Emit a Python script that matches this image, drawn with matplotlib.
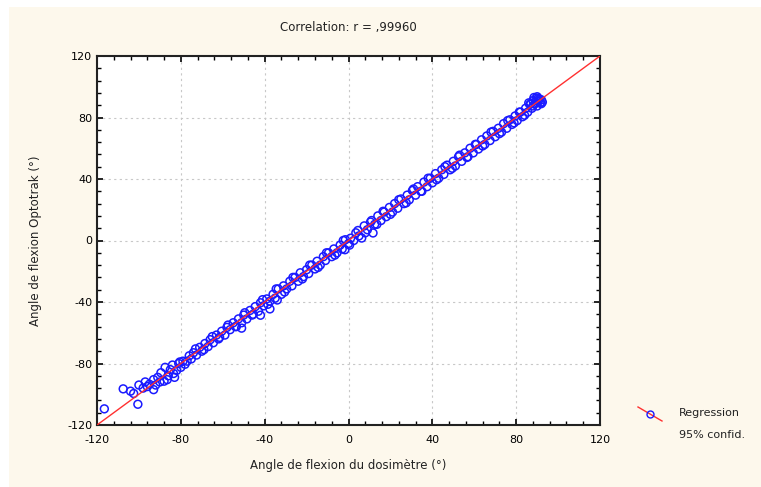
import matplotlib
matplotlib.use("Agg")
import matplotlib.pyplot as plt
from matplotlib.patches import Rectangle
from matplotlib.lines import Line2D
from matplotlib.ticker import MultipleLocator

plt.rcParams["axes.unicode_minus"] = False

# Donnees (dosimetre, optotrak)
dosi = [-116.5, -107.5, -104, -102.5, -100.5, -100, -98, -97, -95, -93, -93, -91, -89.5, -88, -87.5,
        -86.5, -85, -84, -83, -82, -81, -80, -79, -78,
        -76, -75, -74, -72.5, -71, -70, -68.5, -67, -66, -64.5, -63, -62, -60.5, -59, -58, -56.5,
        -55, -54, -52.5, -51, -51, -50, -48.5, -47, -46, -44.5, -43, -42, -42, -40.5, -39,
        -37.5, -37.5, -36, -35, -34, -33.5, -32, -31, -29.5, -28, -27, -25.5, -24, -23, -21.5,
        -20, -19, -17.5, -16, -15, -13.5, -12, -11, -9.5, -8, -7, -5.5, -4, -3, -1.5, -1.7, 0, 1,
        2.5, 3.5, 5, 6.3, 7.5, 9, 10.5, 11.7, 12.5, 14, 15.5, 17, 18, 19.5, 21, 22, 23.5, 25,
        26.5, 28, 29, 30.5, 32, 33, 34.5, 36, 37.5, 39, 40, 41.5, 43, 44.5, 45.5, 47, 48.5, 50,
        51, 52.5, 54, 55.5, 56.5, 58, 59.5, 61, 62, 63.5, 65, 66, 67.5, 69, 70, 71.5, 73, 74,
        75.5, 77, 78, 79.5, 80.5, 82, 83, 84.5, 85.5, 86.5, 87.5, 88, 89, 89.5, 90, 90.5, 91,
        91.5, 92, 88.5, 92.5, 90, 87]
opto = [-109.5, -96.5, -98, -99.5, -106.5, -94, -96, -92, -93.5, -97, -90.5, -89, -86, -91.5, -82.5,
        -90.5, -84, -81, -89, -84.5, -80, -82.5, -78.5, -80.5,
        -75, -77, -73, -74.5, -69.5, -72, -67, -69, -64.5, -66.5, -61.5, -64, -59, -61.5, -56.5, -58,
        -53.5, -56, -51, -53.5, -57, -48.5, -51, -45.5, -48.5, -43, -46, -40.5, -48.6, -42.5, -38,
        -44.5, -39.5, -35, -37.5, -38.7, -31.5, -35, -29.5, -31.5, -26.5, -29.5, -24, -26.5, -21, -23.5,
        -19, -21.5, -16, -18.5, -13.5, -16, -10.5, -13, -8, -10.5, -5.5, -8, -3, -5.5, 0.5, -6, -2, 1.5,
        0, 5, 3, 1.6, 9.5, 7, 12, 4.9, 10.5, 16, 13, 18.5, 15.5, 21.5, 18.5, 24, 21, 27,
        24, 29.5, 26.5, 32.5, 29.5, 35, 32, 38, 35, 40.5, 37.5, 43.5, 40.5, 46, 43, 49, 46, 51.5,
        48.5, 54.5, 51.5, 57, 54, 60, 57, 62.5, 59.5, 65.5, 62.5, 68, 65, 71, 67.5, 73, 70.5, 76,
        73, 78.5, 75.5, 81, 78, 83.5, 80.5, 86, 83.5, 88.5, 86, 91, 89, 92.5, 87.5, 90.5, 92,
        89.5, 91.5, 93, 90, 93.5, 89]

# second paquet de points (le nuage est dense autour de la droite)
dosi2 = [-96, -92, -90, -86, -83.5, -80.5, -77, -73, -69, -65, -61.5, -57.5, -53.5, -49.5, -45.5,
         -41, -38.5, -34.5, -30.5, -26.5, -22, -18.5, -14.5, -10.5, -6.5, -2.5, 0.5, 4.5, 8, 11,
         13.5, 16.5, 20, 24, 27.5, 31, 35, 38, 42, 46, 49.5, 53, 57, 60.5, 64, 68, 72, 76,
         79, 81.5, 84, 86, 88, 90.5, 92]
opto2 = [-95, -94, -92, -88, -86.5, -79, -78.5, -70.5, -71, -62.5, -63, -55, -56, -47, -48,
         -38.5, -41.5, -31.5, -33.5, -24, -25, -16, -17.5, -8, -9.5, 0, -3, 6.5, 5, 13,
         10.5, 19, 17, 26.5, 24.5, 33.5, 32, 40.5, 39.5, 48, 47, 55.5, 54.5, 62.5, 61.5, 70.5, 69.5, 78,
         76.5, 83.5, 81.5, 89.5, 87.5, 92.5, 89]

# droite de regression
reg_x = [-120, 120]
reg_y = [-120, 120]

fig = plt.figure(figsize=(7.61, 4.87), dpi=100, facecolor="white")
fig.patches.append(Rectangle((9 / 761, 0), 1, 1 - 7 / 487, transform=fig.transFigure,
                             facecolor="#fdf8ec", edgecolor="none", zorder=-10))

ax = fig.add_axes([97 / 761, 1 - 425 / 487, 503 / 761, 369 / 487])
ax.set_facecolor("white")
ax.scatter(dosi, opto, s=32, facecolors="none", edgecolors="#1a1aff", linewidths=1.1, zorder=3)
ax.scatter(dosi2, opto2, s=32, facecolors="none", edgecolors="#1a1aff", linewidths=1.1, zorder=3)
ax.plot(reg_x, reg_y, color="#ff3030", linewidth=1.0, zorder=4)

ax.set_xlim(-120, 120)
ax.set_ylim(-120, 120)
ax.xaxis.set_major_locator(MultipleLocator(40))
ax.yaxis.set_major_locator(MultipleLocator(40))
ax.xaxis.set_minor_locator(MultipleLocator(8))
ax.yaxis.set_minor_locator(MultipleLocator(8))
ax.tick_params(which="both", direction="in", top=True, right=True, labelsize=8, colors="black")
ax.tick_params(which="major", length=4, width=1.2)
ax.tick_params(which="minor", length=3, width=1)
ax.tick_params(axis="x", pad=7)
ax.grid(True, which="major", linestyle=(0, (2, 3)), color="#c8c8c8", linewidth=0.8)
for s in ax.spines.values():
    s.set_linewidth(1.5)
    s.set_color("#222222")

ax.set_xlabel("Angle de flexion du dosimètre (°)", fontsize=8.5, labelpad=10, color="#222222")
ax.set_ylabel("Angle de flexion Optotrak (°)", fontsize=8.5, labelpad=18, color="#222222")
fig.text(348 / 761, 1 - 27 / 487, "Correlation: r = ,99960", ha="center", va="center",
         fontsize=8.5, color="#222222")

# legende faite a la main
fig.lines.append(Line2D([638 / 761, 662 / 761], [1 - 407 / 487, 1 - 421 / 487],
                        transform=fig.transFigure, color="#ff3030", linewidth=1.0))
fig.lines.append(Line2D([650 / 761], [1 - 414 / 487], transform=fig.transFigure, marker="o",
                        markersize=5, markerfacecolor="none", markeredgecolor="#1a1aff"))
fig.text(679 / 761, 1 - 413 / 487, "Regression", fontsize=8, va="center", color="#222222")
fig.text(679 / 761, 1 - 435 / 487, "95% confid.", fontsize=8, va="center", color="#222222")

fig.savefig("out.png", dpi=100, facecolor=fig.get_facecolor())
